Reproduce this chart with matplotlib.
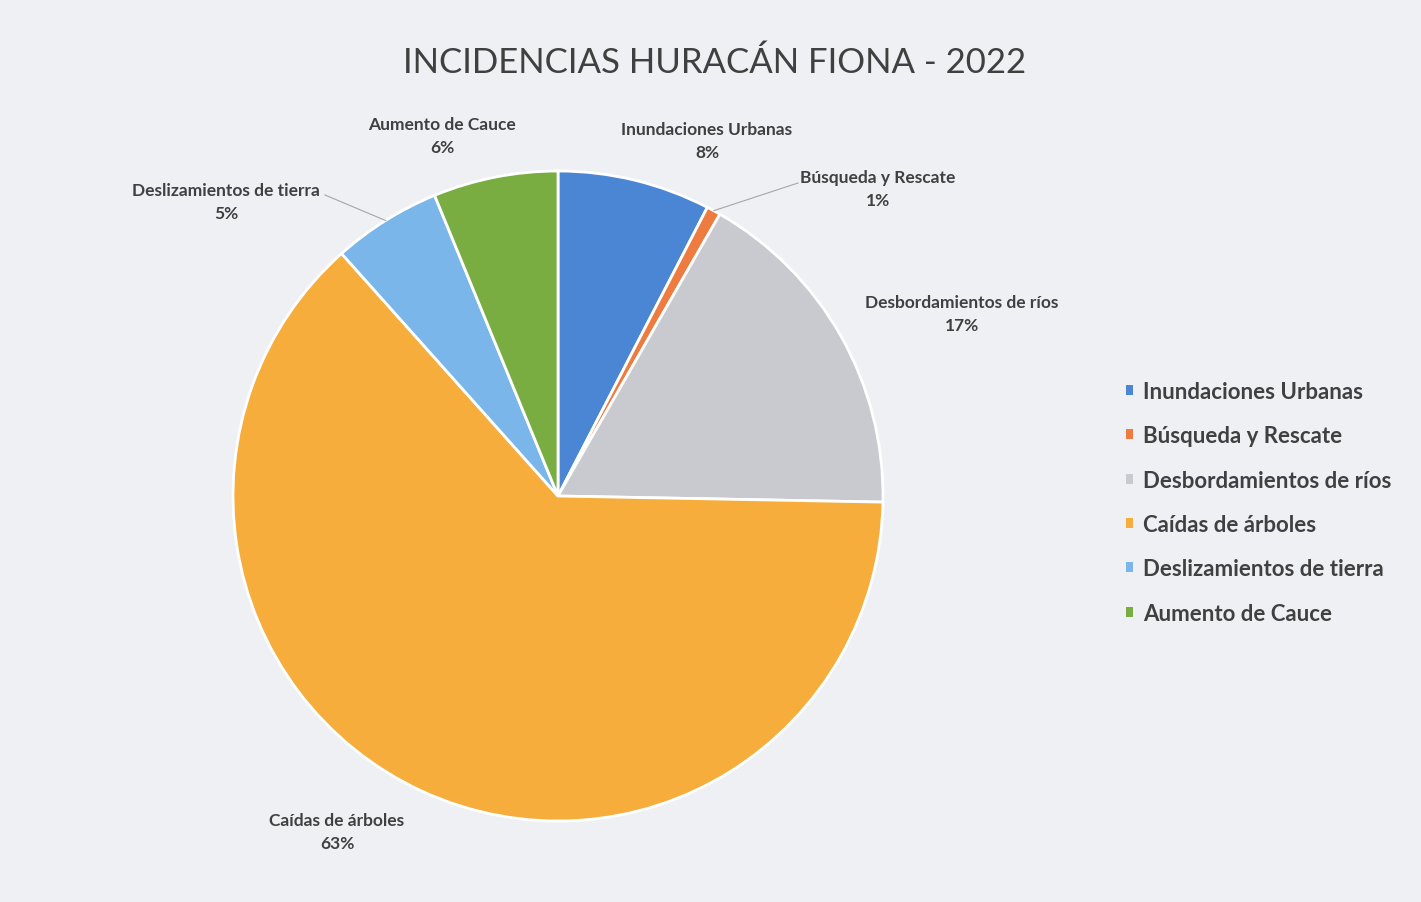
import matplotlib.pyplot as plt
from matplotlib.patches import Patch
import numpy as np

plt.rcParams['font.family'] = ['Lato', 'DejaVu Sans']

categorias = ['Inundaciones Urbanas', 'Búsqueda y Rescate', 'Desbordamientos de ríos',
              'Caídas de árboles', 'Deslizamientos de tierra', 'Aumento de Cauce']
porcentajes = [7.6, 0.7, 17.0, 63.1, 5.4, 6.2]
colores = ['#4a86d4', '#ee7b40', '#c9cacf', '#f6ad3c', '#7ab6ea', '#79ad42']

# posicion de las etiquetas en pixeles (x, y del nombre)
etiquetas_px = [(707, 130), (878, 178), (962, 303), (337, 821), (226, 191), (442, 125)]

W, H = 1421, 903
cx, cy, R = 558, 497, 325
fondo = '#eef0f3'
texto = '#404040'


def px2data(px, py):
    return (px - cx) / R, (cy - py) / R


fig = plt.figure(figsize=(W / 100, H / 100), dpi=100, facecolor=fondo)
ax = fig.add_axes([0, 0, 1, 1])
ax.set_facecolor(fondo)

wedges, _ = ax.pie(porcentajes, colors=colores, startangle=90, counterclock=False,
                   radius=1, center=(0, 0), frame=True,
                   wedgeprops=dict(edgecolor='white', linewidth=2))
ax.set_xlim(-cx / R, (W - cx) / R)
ax.set_ylim((cy - H) / R, cy / R)
ax.set_aspect('equal')
ax.axis('off')

for i, (nombre, p) in enumerate(zip(categorias, porcentajes)):
    lx, ly = px2data(*etiquetas_px[i])
    ax.text(lx, ly, nombre, ha='center', va='center', fontsize=12.5,
            fontweight='bold', color=texto)
    ax.text(lx, ly - 23 / R, '%.0f%%' % p, ha='center', va='center', fontsize=12.5,
            fontweight='bold', color=texto)

# lineas guia para las porciones pequeñas
w = wedges[1]
ang = np.deg2rad((w.theta1 + w.theta2) / 2)
x0, y0 = np.cos(ang) * 1.0, np.sin(ang) * 1.0
x1, y1 = px2data(798, 184)
ax.plot([x0, x1], [y0, y1], color='#a6a6a6', lw=0.8)

w = wedges[4]
ang = np.deg2rad((w.theta1 + w.theta2) / 2)
x0, y0 = np.cos(ang) * 1.0, np.sin(ang) * 1.0
x1, y1 = px2data(325, 196)
ax.plot([x0, x1], [y0, y1], color='#a6a6a6', lw=0.8)

fig.text(715 / W, 1 - 63 / H, 'INCIDENCIAS HURACÁN FIONA - 2022', ha='center', va='center',
         fontsize=25, color=texto)

handles = [Patch(facecolor=c, edgecolor='none') for c in colores]
leg = fig.legend(handles, categorias, loc='upper left', bbox_to_anchor=(1106 / W, 1 - 362 / H),
                 frameon=False, prop={'size': 16, 'weight': 'bold'}, handlelength=0.3,
                 handleheight=0.3, handletextpad=0.45, labelspacing=1.05)
for t in leg.get_texts():
    t.set_color(texto)

fig.savefig('out.png', dpi=100, facecolor=fondo)
